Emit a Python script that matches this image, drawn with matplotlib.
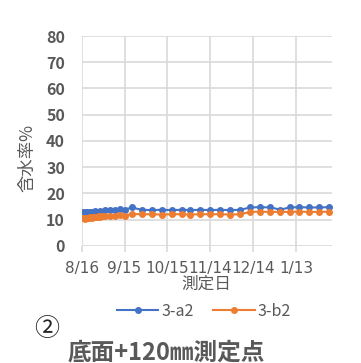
import matplotlib
matplotlib.use("Agg")
import matplotlib.pyplot as plt
import matplotlib.dates as mdates
from datetime import date, timedelta

plt.rcParams['font.family'] = ['Noto Sans CJK JP', 'DejaVu Sans']

# Measurement dates (days after the first measurement on 2021-08-16)
start = date(2021, 8, 16)
day_offsets = [0, 1, 2, 3, 4, 5, 6, 7, 8, 9, 10, 11, 12, 13, 14,
               16, 20, 23, 27, 30, 35, 42, 49, 56, 63, 70, 76, 83, 90,
               97, 104, 111, 118, 125, 132, 139, 146, 152, 159, 166, 173]

# Moisture content (%)
series_a2 = [12.6, 12.8, 12.5, 12.9, 12.7, 12.6, 13.0, 12.8, 12.7, 13.1,
             12.9, 13.0, 12.8, 13.2, 13.0, 13.6, 13.8, 13.7, 13.9, 13.7,
             14.6, 13.7, 13.6, 13.7, 13.6, 13.7, 13.6, 13.7, 13.6, 13.7,
             13.6, 13.7, 14.6, 14.7, 14.6, 13.8, 14.6, 14.7, 14.6, 14.6, 14.7]
series_b2 = [10.4, 10.6, 10.3, 10.7, 10.5, 10.4, 10.8, 10.6, 10.9, 11.0,
             10.8, 11.1, 11.2, 11.0, 11.3, 11.4, 11.5, 11.4, 11.6, 11.5,
             12.1, 12.0, 12.0, 11.9, 12.0, 12.0, 11.9, 12.0, 12.0, 12.0,
             11.9, 12.0, 12.9, 13.0, 12.9, 12.9, 12.9, 13.0, 12.9, 12.9, 13.0]
series_names = ['3-a2', '3-b2']

tick_offsets = [0, 30, 60, 90, 120, 150]
tick_labels = ['8/16', '9/15', '10/15', '11/14', '12/14', '1/13']
y_ticks = [0, 10, 20, 30, 40, 50, 60, 70, 80]

dates = [start + timedelta(days=d) for d in day_offsets]
tick_dates = [start + timedelta(days=d) for d in tick_offsets]

GRAY = '#595959'
GRID = '#d9d9d9'

fig = plt.figure(figsize=(3.61, 3.63), dpi=100)
ax = fig.add_axes([0.2263, 0.3231, 0.6925, 0.5777])

ax.plot(dates, series_a2, color='#4472C4', lw=1.5, marker='o', ms=4,
        label=series_names[0], zorder=3)
ax.plot(dates, series_b2, color='#ED7D31', lw=1.5, marker='o', ms=4,
        label=series_names[1], zorder=3)

ax.set_xlim(mdates.date2num(start), mdates.date2num(start + timedelta(days=175)))
ax.set_ylim(0, 80)
ax.set_xticks(mdates.date2num(tick_dates))
ax.set_xticklabels(tick_labels, family='DejaVu Sans', fontsize=11)
ax.set_yticks(y_ticks)

ax.grid(True, color=GRID, lw=1.2)
ax.set_axisbelow(True)
for s in ax.spines.values():
    s.set_visible(False)

ax.tick_params(axis='x', length=4, color=GRID, width=1.2, pad=7,
               labelcolor=GRAY)
ax.tick_params(axis='y', length=0, pad=12, labelsize=11.5, labelcolor=GRAY)
for lbl in ax.get_yticklabels():
    lbl.set_fontweight('bold')

ax.set_xlabel('測定日', color=GRAY, fontsize=12, labelpad=0)
fig.text(0.075, 0.566, '含水率%', rotation=90, ha='center', va='center',
         color=GRAY, fontsize=12.5)

fig.legend(loc='center', bbox_to_anchor=(0.565, 0.143), ncol=2, frameon=False,
           fontsize=11.5, handlelength=2.6, columnspacing=1.2, handletextpad=0.2,
           labelcolor=GRAY)

fig.text(0.13, 0.094, '②', ha='center', va='center', fontsize=18, color='#222222')
fig.text(0.188, 0.030, '底面+120㎜測定点', ha='left', va='center',
         fontsize=17, fontweight='bold', color=GRAY)

fig.savefig('out.png', dpi=100)
